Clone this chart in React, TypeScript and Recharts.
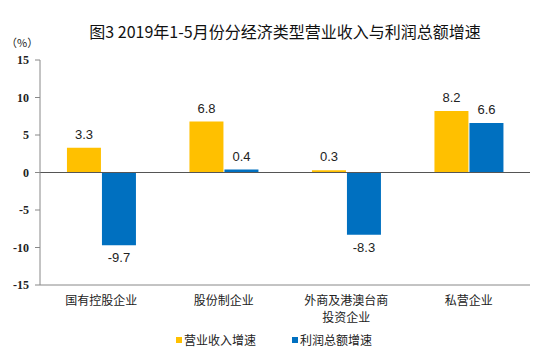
import React from "react";
import {
  BarChart,
  Bar,
  XAxis,
  YAxis,
  ReferenceLine,
  LabelList,
} from "recharts";

const categories = ["国有控股企业", "股份制企业", "外商及港澳台商\n投资企业", "私营企业"];
const revenueGrowth = [3.3, 6.8, 0.3, 8.2];
const profitGrowth = [-9.7, 0.4, -8.3, 6.6];
const yTicks = [-15, -10, -5, 0, 5, 10, 15];

const data = categories.map((name, i) => ({
  name,
  revenue: revenueGrowth[i],
  profit: profitGrowth[i],
}));

const GOLD = "#FFC000";
const BLUE = "#0070C0";
const CJK = "'Noto Sans CJK SC', 'Noto Sans', sans-serif";
const SERIF = "'Liberation Serif', 'DejaVu Serif', serif";

function CategoryTick(props: any) {
  const { x, y, payload } = props;
  const lines = String(payload.value).split("\n");
  return (
    <text x={x} y={y + 12} textAnchor="middle" fontSize={12} fill="#222" fontFamily={CJK}>
      {lines.map((l, i) => (
        <tspan key={i} x={x} dy={i === 0 ? 0 : 17}>
          {l}
        </tspan>
      ))}
    </text>
  );
}

function ValueTick(props: any) {
  const { x, y, payload } = props;
  return (
    <text x={x - 4} y={y + 4} textAnchor="end" fontSize={12} fontWeight={700} fill="#222" style={{ fontFamily: SERIF }}>
      {payload.value}
    </text>
  );
}

function ValueLabel(props: any) {
  const vb = props.viewBox || props;
  const { value } = props;
  const top = Math.min(vb.y, vb.y + vb.height);
  const bottom = Math.max(vb.y, vb.y + vb.height);
  const cx = vb.x + vb.width / 2;
  const ty = value < 0 ? bottom + 17 : top - 9;
  return (
    <text x={cx} y={ty} textAnchor="middle" fontSize={13} fill="#222" fontFamily="'Liberation Sans', Arial, sans-serif">
      {value}
    </text>
  );
}

function LegendItem({ left, color, label }: { left: number; color: string; label: string }) {
  return (
    <div
      style={{
        position: "absolute",
        left,
        top: 331,
        display: "flex",
        alignItems: "center",
        fontSize: 12,
        fontFamily: CJK,
        color: "#222",
        whiteSpace: "nowrap",
      }}
    >
      <span style={{ width: 6, height: 6, background: color, marginRight: 2, display: "inline-block" }} />
      <span>{label}</span>
    </div>
  );
}

export default function App() {
  return (
    <div style={{ position: "absolute", left: 0, top: 0, width: 550, height: 353, background: "#fff" }}>
      <div
        style={{
          position: "absolute",
          left: 0,
          top: 19,
          width: 570,
          textAlign: "center",
          fontSize: 16,
          fontFamily: CJK,
          color: "#111",
        }}
      >
        图3 2019年1-5月份分经济类型营业收入与利润总额增速
      </div>
      <div
        style={{
          position: "absolute",
          left: 6,
          top: 35,
          fontSize: 11,
          lineHeight: "14px",
          fontFamily: CJK,
          color: "#222",
        }}
      >
        （%）
      </div>
      <BarChart
        width={550}
        height={353}
        data={data}
        margin={{ top: 60, right: 20, bottom: 38, left: 0 }}
        barCategoryGap="22%"
        barGap={1}
      >
        <XAxis
          dataKey="name"
          tick={<CategoryTick />}
          tickLine={false}
          axisLine={{ stroke: "#888" }}
          interval={0}
          height={30}
        />
        <XAxis xAxisId="top" orientation="top" dataKey="name" tick={false} tickLine={false} axisLine={{ stroke: "#888" }} height={0} />
        <YAxis
          domain={[-15, 15]}
          ticks={yTicks}
          width={40}
          tickSize={5}
          tickLine={{ stroke: "#888" }}
          axisLine={{ stroke: "#888" }}
          tick={<ValueTick />}
          interval={0}
        />
        <YAxis yAxisId="right" orientation="right" domain={[-15, 15]} tick={false} tickLine={false} axisLine={{ stroke: "#888" }} width={0} />
        <ReferenceLine y={0} stroke="#555" />
        <Bar dataKey="revenue" fill={GOLD} isAnimationActive={false}>
          <LabelList dataKey="revenue" content={<ValueLabel />} />
        </Bar>
        <Bar dataKey="profit" fill={BLUE} isAnimationActive={false}>
          <LabelList dataKey="profit" content={<ValueLabel />} />
        </Bar>
      </BarChart>
      <LegendItem left={176} color={GOLD} label="营业收入增速" />
      <LegendItem left={292} color={BLUE} label="利润总额增速" />
    </div>
  );
}
